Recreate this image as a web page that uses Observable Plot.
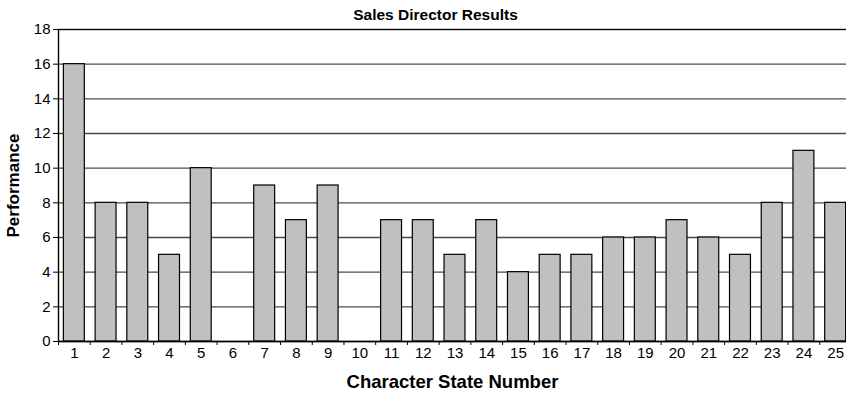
<!DOCTYPE html>
<html>
<head>
<meta charset="utf-8">
<script src="https://cdn.jsdelivr.net/npm/d3@7"></script>
<script src="https://cdn.jsdelivr.net/npm/@observablehq/plot@0.6"></script>
<style>
  html, body { margin: 0; padding: 0; background: #fff; overflow: hidden; }
  #chart svg { display: block; }
</style>
</head>
<body>
<div id="chart"></div>
<script>
// Performance score for each character state
const states = ["1","2","3","4","5","6","7","8","9","10","11","12","13","14","15","16","17","18","19","20","21","22","23","24","25"];
const performance = [16, 8, 8, 5, 10, 0, 9, 7, 9, 0, 7, 7, 5, 7, 4, 5, 5, 6, 6, 7, 6, 5, 8, 11, 8];
const yTicks = [0, 2, 4, 6, 8, 10, 12, 14, 16, 18];

const rows = states.map((s, i) => ({state: s, value: performance[i]}));

const W = 846, H = 393;
const left = 58, right = 851;              // plot area runs past the right edge
const step = (right - left) / states.length; // width of one category slot
const font = "'Liberation Sans', Arial, Helvetica, sans-serif";

const chart = Plot.plot({
  width: W,
  height: H,
  marginLeft: left,
  marginRight: 0,
  marginTop: 29,
  marginBottom: 52,
  style: {fontFamily: font, fontSize: "15px", color: "#000", background: "#fff"},
  x: {domain: states, range: [left, right], paddingInner: 0.34, paddingOuter: 0.17, round: false},
  y: {domain: [0, 18], ticks: yTicks},
  marks: [
    // horizontal gridlines
    Plot.ruleY(yTicks, {stroke: "#4a4a4a", strokeWidth: 1.4}),
    // bars
    Plot.barY(rows, {x: "state", y: "value", fill: "#c0c0c0", stroke: "#000", strokeWidth: 1.2}),
    // left axis line
    Plot.ruleX([states[0]], {dx: -step / 2, y1: 0, y2: 18, stroke: "#000", strokeWidth: 1.4}),
    // baseline
    Plot.ruleY([0], {stroke: "#000", strokeWidth: 1.4}),
    Plot.ruleY([18], {stroke: "#000", strokeWidth: 1.2}),
    // y ticks and labels
    Plot.axisY({ticks: yTicks, tickSize: 5, tickPadding: 3, fontSize: 15, label: null, stroke: "#000"}),
    // category boundary ticks
    Plot.axisX({tickSize: 4, tickFormat: () => "", dx: -step / 2, label: null, stroke: "#000"}),
    // category labels
    Plot.axisX({tickSize: 0, tickPadding: 6, fontSize: 15, label: null}),
    // title
    Plot.text(["Sales Director Results"], {
      frameAnchor: "top", lineAnchor: "bottom", dy: -10, dx: -17,
      fontSize: 15.5, fontWeight: "bold", fill: "#000"
    }),
    // x axis title
    Plot.text(["Character State Number"], {
      frameAnchor: "bottom", textAnchor: "middle", lineAnchor: "bottom", dy: 46,
      fontSize: 18.5, fontWeight: "bold", fill: "#000"
    }),
    // y axis title
    Plot.text(["Performance"], {
      frameAnchor: "left", textAnchor: "middle", rotate: -90, lineAnchor: "top", dx: -52,
      fontSize: 17, fontWeight: "bold", fill: "#000"
    })
  ]
});

document.getElementById("chart").appendChild(chart);
</script>
</body>
</html>
